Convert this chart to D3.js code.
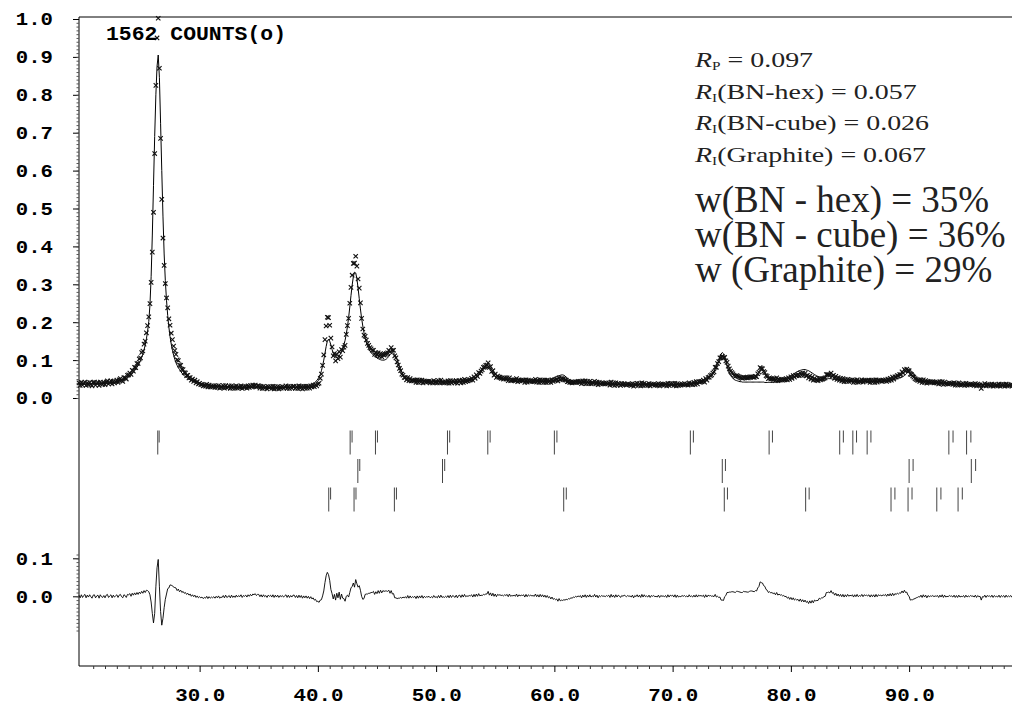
<!DOCTYPE html>
<html><head><meta charset="utf-8">
<script src="https://cdn.jsdelivr.net/npm/d3@7"></script>
<style>html,body{margin:0;padding:0;background:#fff;}svg{display:block;}</style>
</head><body>
<svg id="c" width="1012" height="708"></svg>
<script>
// ---- scan parameters (2-theta, degrees) ----
const scanStart = 19.8, scanStep = 0.1;
// calculated profile, thousandths of 1562 counts, one row per degree (first row 19.8-19.9)
const calcIntensity = [
37,37,
37,37,37,37,37,37,37,37,37,37,
38,38,38,38,38,38,38,39,39,39,
39,39,40,40,40,41,41,41,42,42,
43,44,45,46,47,48,50,51,53,55,
57,59,62,65,68,72,76,81,86,92,
99,107,116,127,140,156,176,202,245,320,
430,560,690,800,875,905,845,725,600,480,
380,310,258,218,187,162,142,126,113,102,
93,86,80,75,70,66,62,59,56,54,
52,50,48,47,46,45,44,43,42,41,
40,39,38,38,37,36,36,35,35,34,
34,33,33,33,32,32,32,31,31,31,
31,30,30,30,30,30,29,29,29,29,
29,29,28,28,28,28,28,28,28,28,
28,28,28,28,28,28,27,27,27,27,
27,27,27,27,27,27,27,27,27,27,
27,27,27,27,27,27,27,27,27,27,
28,28,28,28,28,28,28,28,28,28,
28,28,28,29,29,29,29,29,30,30,
30,31,31,32,33,36,38,40,43,46,
50,55,62,72,85,100,118,136,150,155,
150,140,128,118,112,108,107,108,111,116,
122,130,140,152,168,188,212,240,270,298,
320,332,330,315,290,262,235,210,190,172,
158,147,138,131,125,120,116,113,110,108,
106,104,102,101,100,100,100,101,103,106,
110,114,118,120,119,115,110,101,92,83,
75,68,62,58,55,53,52,51,50,49,
48,48,47,47,47,46,46,46,45,45,
45,45,45,45,44,44,44,44,44,44,
44,44,44,44,44,44,43,43,43,43,
43,43,43,43,43,43,43,43,43,43,
43,43,43,43,44,44,45,45,46,47,
48,49,51,53,55,57,60,64,68,73,
76,78,80,81,80,78,74,69,64,60,
57,55,53,52,51,50,50,49,49,48,
48,47,47,46,46,46,45,45,45,44,
44,44,44,44,43,43,43,43,43,43,
43,43,43,43,43,43,43,43,43,43,
43,43,44,44,45,46,47,48,50,52,
54,56,57,58,59,60,61,61,60,58,
55,52,50,48,46,45,44,44,43,43,
43,42,42,42,42,41,41,41,41,40,
40,40,40,40,39,39,39,39,39,38,
38,38,38,38,38,37,37,37,37,37,
37,36,36,36,36,36,36,36,35,35,
35,35,35,35,35,35,35,35,35,35,
35,35,35,35,35,35,35,35,35,35,
35,35,35,35,35,35,35,35,35,35,
35,35,35,35,35,35,35,35,35,35,
35,35,35,35,35,35,35,35,35,35,
36,36,36,36,36,37,37,37,38,38,
39,39,40,41,42,43,44,45,47,49,
51,54,57,61,65,70,76,83,91,99,
108,116,120,117,108,96,84,74,66,60,
55,52,49,47,46,45,44,43,43,42,
42,42,42,42,42,42,42,42,42,42,
42,42,42,42,42,42,42,42,41,41,
41,41,41,41,41,42,42,42,43,43,
43,44,45,46,47,49,51,53,55,57,
59,61,63,65,67,69,70,72,73,74,
75,75,75,74,73,72,70,68,66,64,
62,60,58,57,56,55,54,54,53,53,
52,52,51,51,51,50,50,49,49,48,
48,47,47,46,46,45,45,45,44,44,
44,44,44,43,43,43,43,43,43,43,
43,43,43,43,43,43,43,43,43,43,
43,43,43,43,43,43,43,43,43,43,
43,44,44,45,45,46,47,48,49,50,
51,52,53,54,55,57,59,62,65,69,
72,73,71,67,62,57,53,50,48,46,
45,44,44,43,43,43,42,42,42,41,
41,41,41,40,40,40,40,40,39,39,
39,39,39,38,38,38,38,38,37,37,
37,37,37,37,36,36,36,36,36,36,
36,36,35,35,35,35,35,35,35,35,
35,35,35,35,35,35,34,34,34,34,
34,34,34,34,34,34,34,34,34,34,
34,34,34,34,34,34,34,34
];
// observed minus calculated, thousandths of 1562 counts (same grid)
const difference = [
3,-4,
4,-3,2,5,-4,3,-2,4,-1,-5,
3,4,-4,1,3,-5,4,-1,-3,2,
-4,3,5,-3,1,4,-4,3,-2,1,
4,-3,3,5,-1,-4,4,2,-3,5,
4,7,0,8,3,9,4,10,5,11,
7,13,8,15,10,16,15,12,4,-15,
-45,-70,-45,25,75,97,25,-40,-76,-58,
-30,-8,6,20,22,30,29,28,24,23,
22,15,19,12,16,10,13,8,10,5,
8,3,6,0,4,-1,3,-3,1,-4,
-1,-4,-2,-6,-3,-5,0,-6,-1,-5,
-2,-4,-1,-5,0,-4,1,-5,-2,-3,
2,-4,3,-3,-1,2,-4,3,-3,1,
-3,3,-2,2,-1,4,-3,2,0,3,
-2,4,0,5,1,6,4,7,2,5,
5,-1,4,-2,4,-1,2,-3,3,0,
3,-2,4,-3,3,-2,3,-3,2,-1,
2,-2,1,4,-3,3,-3,2,-2,3,
3,-3,2,-4,3,-3,2,-5,1,-4,
1,-5,0,-6,-1,-7,-4,-10,-8,-14,
-13,-16,-10,-9,1,14,36,54,63,57,
42,18,7,-7,5,-10,8,-4,11,-8,
6,-5,-6,-13,0,3,-2,10,22,26,
35,24,44,33,24,28,16,0,-8,-6,
5,6,6,8,8,10,10,13,5,12,
7,15,8,16,9,15,13,14,14,13,
16,8,15,6,7,-4,-4,-6,-5,-5,
-3,-5,-2,-4,-1,-5,2,-5,1,-4,
-1,-3,0,-6,1,-5,1,-4,2,-5,
0,-3,-1,-2,0,-4,-1,-4,2,-3,
-1,-4,2,-4,3,-3,-1,-3,0,-3,
2,-4,3,-3,2,0,-3,3,-4,2,
3,-3,4,-2,5,-1,1,0,2,1,
4,-2,5,-1,6,0,7,1,3,2,
5,4,6,6,13,3,9,1,8,0,
6,-1,5,3,4,2,3,1,4,2,
5,-1,6,0,2,1,3,0,6,-1,
4,1,3,2,4,-2,5,-1,4,1,
3,1,2,0,6,-1,4,-2,5,-1,
4,-2,3,-3,2,-4,-1,-7,-2,-8,
-6,-9,-7,-13,-6,-12,-10,-11,-9,-10,
-8,-9,-6,-7,-4,-5,-2,-3,0,-2,
1,-1,2,-4,3,-2,4,-3,3,-2,
4,-2,1,-1,5,-2,3,-4,2,-1,
2,0,1,-1,2,0,3,-3,5,-2,
3,-3,4,-2,3,1,-3,2,0,3,
1,-1,2,0,1,-2,3,-4,2,-1,
4,-2,3,-3,5,-2,4,-1,1,-2,
3,-3,2,0,2,-1,0,-2,3,-3,
2,0,1,-1,2,-3,4,-2,3,1,
3,-2,4,-3,3,-2,0,-1,2,0,
2,-1,1,-2,4,-1,1,-2,3,-2,
4,-2,3,1,2,0,3,-3,4,-2,
3,1,2,0,1,-1,5,-2,0,-3,
-2,-10,-10,-11,-1,2,10,10,11,11,
12,12,11,10,13,13,12,11,10,10,
13,12,12,11,11,13,14,14,13,12,
15,14,22,26,38,36,35,28,26,18,
16,10,12,9,10,7,9,4,10,3,
6,3,4,1,2,-1,0,-5,-2,-8,
-3,-9,-4,-10,-7,-10,-8,-13,-7,-14,
-9,-15,-10,-16,-13,-19,-12,-18,-11,-17,
-10,-12,-11,-11,-5,-7,-4,-4,-1,0,
10,10,11,9,15,8,10,3,8,1,
6,0,5,-1,5,-2,4,-1,5,0,
3,1,4,-2,4,-1,5,-1,2,0,
5,-1,4,2,3,1,4,-2,4,-1,
4,-2,5,-1,4,2,3,1,4,2,
5,0,6,1,7,1,8,2,7,5,
8,6,9,8,14,9,16,10,11,3,
0,-10,-9,-9,-7,-6,-4,-3,-1,-2,
3,-3,4,-2,3,-4,2,-1,1,0,
2,-1,1,0,2,-3,3,-2,4,-3,
3,-2,0,-1,2,0,1,-2,3,-3,
2,-3,3,-2,0,-1,2,-3,3,-2,
1,-1,2,0,1,-2,3,-3,2,-1,
0,-10,-1,-2,3,-3,2,0,1,-2,
3,-3,2,-1,0,-2,3,-3,2,-1,
2,-3,3,-2,1,-1,2,-3
];
// Bragg reflection positions (Cu K-alpha1), 2-theta
const bnHexReflections = [26.46,42.73,44.87,50.96,54.37,60.0,71.5,78.16,84.13,85.24,86.45,93.36,94.86];
const bnCubeReflections = [43.38,50.54,74.2,90.0,95.26];
const graphiteReflections = [40.92,43.06,46.47,60.79,74.37,81.25,88.47,89.91,92.34,94.14];
const lambdaKa1 = 1.54056, lambdaKa2 = 1.54439;
// axis tick labels
const xTickLabels = [30,40,50,60,70,80,90];
const yTickLabels = [0,0.1,0.2,0.3,0.4,0.5,0.6,0.7,0.8,0.9,1.0];
const diffTickLabels = [0,0.1];
const countsLabel = "1562 COUNTS(o)";
const rFactorSubs = ["P","I","I","I"];
const rFactorTexts = [" = 0.097","(BN-hex) = 0.057","(BN-cube) = 0.026","(Graphite) = 0.067"];
const weightTexts = ["w(BN - hex) = 35%","w(BN - cube) = 36%","w (Graphite) = 29%"];

// ---- build data ----
const pts = calcIntensity.map((c, i) => ({
  t: +(scanStart + i * scanStep).toFixed(2),
  calc: c / 1000,
  diff: difference[i] / 1000,
  obs: (c + difference[i]) / 1000
}));

const svg = d3.select("#c");
const x = d3.scaleLinear().domain([19.8, 98.7]).range([79, 1012]);
const y = d3.scaleLinear().domain([0, 1]).range([398, 19]);
const yd = d3.scaleLinear().domain([0, 0.1]).range([596.3, 558.3]);
const frameTop = 17, frameBottom = 666;
const mono = "'Liberation Mono','Courier New',monospace";
const serif = "'Liberation Serif','Times New Roman',serif";

// frame
svg.append("line").attr("x1", x.range()[0]).attr("x2", x.range()[0]).attr("y1", frameTop).attr("y2", frameBottom).attr("stroke", "#000");
svg.append("line").attr("x1", x.range()[0]).attr("x2", x.range()[1]).attr("y1", frameTop).attr("y2", frameTop).attr("stroke", "#000");

function styleLabels(g, perChar, size) {
  g.selectAll("text").attr("font-family", mono).attr("font-weight", "bold").attr("font-size", size).attr("fill", "#000")
    .attr("lengthAdjust", "spacingAndGlyphs").attr("textLength", function () { return this.textContent.length * perChar; });
  g.selectAll("line").attr("stroke", "#000");
}

// upper y axis
const gy = svg.append("g").attr("transform", `translate(${x.range()[0]},0)`)
  .call(d3.axisLeft(y).tickValues(yTickLabels).tickSize(6).tickPadding(20).tickFormat(d3.format(".1f")));
gy.select(".domain").remove(); styleLabels(gy, 12.4, 18.5);
const gym = svg.append("g").attr("transform", `translate(${x.range()[0]},0)`)
  .call(d3.axisLeft(y).tickValues(d3.range(0, 100).map(k => k / 100)).tickSize(2.5).tickFormat(""));
gym.select(".domain").remove(); gym.selectAll("line").attr("stroke", "#555");

// difference y axis
const gd = svg.append("g").attr("transform", `translate(${x.range()[0]},0)`)
  .call(d3.axisLeft(yd).tickValues(diffTickLabels).tickSize(6).tickPadding(20).tickFormat(d3.format(".1f")));
gd.select(".domain").remove(); styleLabels(gd, 12.4, 18.5);
const gdm = svg.append("g").attr("transform", `translate(${x.range()[0]},0)`)
  .call(d3.axisLeft(yd).tickValues(d3.range(-9, 12).map(k => k / 100)).tickSize(2.5).tickFormat(""));
gdm.select(".domain").remove(); gdm.selectAll("line").attr("stroke", "#555");

// x axis
const gx = svg.append("g").attr("transform", `translate(0,${frameBottom})`)
  .call(d3.axisBottom(x).tickValues(xTickLabels).tickSize(6).tickPadding(16).tickFormat(d3.format(".1f")));
gx.select(".domain").attr("stroke", "#000").attr("d", `M${x.range()[0]},0H${x.range()[1]}`);
styleLabels(gx, 12.5, 19);
const gxm = svg.append("g").attr("transform", `translate(0,${frameBottom})`)
  .call(d3.axisBottom(x).tickValues(d3.range(21, 99).filter(v => v % 10 !== 0)).tickSize(3).tickFormat(""));
gxm.select(".domain").remove(); gxm.selectAll("line").attr("stroke", "#333");

// calculated line
svg.append("path").datum(pts)
  .attr("d", d3.line().x(d => x(d.t)).y(d => y(d.calc)))
  .attr("fill", "none").attr("stroke", "#000").attr("stroke-width", 1);

// observed markers (x)
const m = 2.2;
svg.append("g").selectAll("path").data(pts).join("path")
  .attr("d", d => { const px = x(d.t), py = y(d.obs); return `M${px - m},${py - m}L${px + m},${py + m}M${px - m},${py + m}L${px + m},${py - m}`; })
  .attr("stroke", "#111").attr("stroke-width", 1.1).attr("fill", "none");

// difference curve
svg.append("path").datum(pts)
  .attr("d", d3.line().x(d => x(d.t)).y(d => yd(d.diff)))
  .attr("fill", "none").attr("stroke", "#000").attr("stroke-width", 0.9);

// reflection markers (K-alpha1 full, K-alpha2 half)
const rows = [bnHexReflections, bnCubeReflections, graphiteReflections];
const rowBand = d3.scaleBand().domain(d3.range(rows.length)).range([430.5, 516]);
const tickH = 24;
const ka2 = t => 2 * Math.asin(lambdaKa2 / lambdaKa1 * Math.sin(t / 2 * Math.PI / 180)) * 180 / Math.PI;
rows.forEach((list, r) => {
  const g = svg.append("g");
  const top = rowBand(r);
  g.selectAll("line.a").data(list).join("line").attr("class", "a")
    .attr("x1", d => x(d)).attr("x2", d => x(d)).attr("y1", top).attr("y2", top + tickH)
    .attr("stroke", "#444").attr("stroke-width", 1);
  g.selectAll("line.b").data(list).join("line").attr("class", "b")
    .attr("x1", d => x(ka2(d)) + 0.6).attr("x2", d => x(ka2(d)) + 0.6).attr("y1", top).attr("y2", top + tickH / 2)
    .attr("stroke", "#444").attr("stroke-width", 1);
});

// counts label
svg.append("text").attr("x", 106).attr("y", 39.5).text(countsLabel)
  .attr("font-family", mono).attr("font-weight", "bold").attr("font-size", 20).attr("fill", "#000")
  .attr("textLength", 180).attr("lengthAdjust", "spacingAndGlyphs").style("white-space", "pre");

// R factors
rFactorTexts.forEach((txt, i) => {
  const t = svg.append("text").attr("transform", `translate(695,${67.3 + i * 31.5}) scale(1.27,1)`)
    .attr("font-family", serif).attr("font-size", 22).attr("fill", "#222").style("white-space", "pre");
  t.append("tspan").attr("font-style", "italic").text("R");
  t.append("tspan").attr("font-size", 12).attr("dy", 3).text(rFactorSubs[i]);
  t.append("tspan").attr("dy", -3).text(txt);
});
// weight fractions
weightTexts.forEach((txt, i) => {
  svg.append("text").attr("x", 695).attr("y", 211.7 + i * 35).text(txt)
    .attr("font-family", serif).attr("font-size", 37).attr("fill", "#222").style("white-space", "pre");
});
</script>
</body></html>
